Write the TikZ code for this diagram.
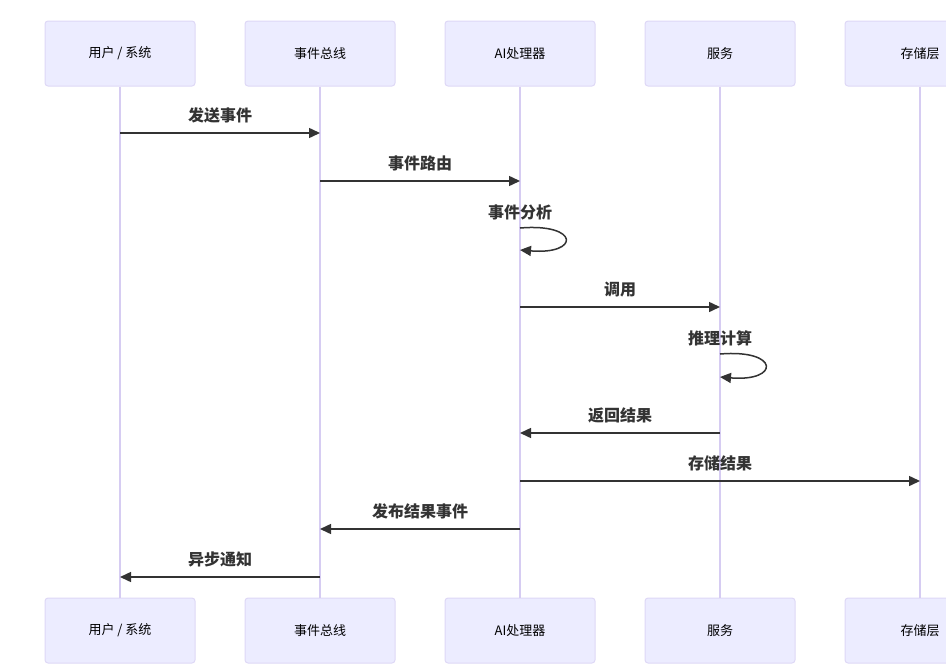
\documentclass[tikz,border=0pt]{standalone}
\usepackage{fontspec}
\setmainfont{Noto Sans CJK SC}
\usetikzlibrary{arrows.meta}
\definecolor{actorfill}{RGB}{236,236,255}
\definecolor{actorline}{RGB}{222,216,246}
\definecolor{lifeline}{RGB}{214,204,242}
\definecolor{msgline}{RGB}{51,51,51}

\begin{document}
\begin{tikzpicture}[x=1pt,y=-1pt,
    actor/.style={rectangle,draw=actorline,fill=actorfill,rounded corners=3pt,line width=1pt,minimum width=150pt,minimum height=65pt,font=\fontsize{13}{15}\selectfont},
    life/.style={draw=lifeline,line width=1.3pt},
    msg/.style={draw=msgline,line width=1.5pt,-{Triangle[length=11pt,width=10pt]}},
    msglabel/.style={font=\bfseries\fontsize{16}{18}\selectfont,text=msgline}]

    \clip (0,0) rectangle (946,672);

    % Actors (top and bottom)
    \node[actor] at (120,53.5) (user) {用户 / 系统};
    \node[actor] at (320,53.5) (bus) {事件总线};
    \node[actor] at (520,53.5) (ai) {AI处理器};
    \node[actor] at (720,53.5) (svc) {服务};
    \node[actor] at (920,53.5) (store) {存储层};

    \node[actor] at (120,630.5) (user2) {用户 / 系统};
    \node[actor] at (320,630.5) (bus2) {事件总线};
    \node[actor] at (520,630.5) (ai2) {AI处理器};
    \node[actor] at (720,630.5) (svc2) {服务};
    \node[actor] at (920,630.5) (store2) {存储层};

    % Lifelines
    \foreach \a in {user,bus,ai,svc,store}
        \draw[life] (\a.south) -- (\a2.north);

    % Message points on the lifelines
    \coordinate (u1) at (120,133);
    \coordinate (b1) at (320,133);
    \coordinate (b2) at (320,181);
    \coordinate (a2) at (520,181);
    \coordinate (a3) at (520,228);
    \coordinate (a3e) at (520,250);
    \coordinate (a4) at (520,307);
    \coordinate (s4) at (720,307);
    \coordinate (s5) at (720,354);
    \coordinate (s5e) at (720,377);
    \coordinate (s6) at (720,433);
    \coordinate (a6) at (520,433);
    \coordinate (a7) at (520,481);
    \coordinate (t7) at (920,481);
    \coordinate (a8) at (520,529);
    \coordinate (b8) at (320,529);
    \coordinate (b9) at (320,577);
    \coordinate (u9) at (120,577);

    % Messages
    \draw[msg] (u1) -- (b1);
    \node[msglabel] at (220,115) (l1) {发送事件};
    \draw[msg] (b2) -- (a2);
    \node[msglabel] at (420,163) (l2) {事件路由};
    \draw[msg] (a3) .. controls +(60,-5) and +(60,5) .. (a3e);
    \node[msglabel] at (520,212) (l3) {事件分析};
    \draw[msg] (a4) -- (s4);
    \node[msglabel] at (620,290) (l4) {调用};
    \draw[msg] (s5) .. controls +(60,-5) and +(60,5) .. (s5e);
    \node[msglabel] at (720,338) (l5) {推理计算};
    \draw[msg] (s6) -- (a6);
    \node[msglabel] at (620,415) (l6) {返回结果};
    \draw[msg] (a7) -- (t7);
    \node[msglabel] at (720,463) (l7) {存储结果};
    \draw[msg] (a8) -- (b8);
    \node[msglabel] at (420,511) (l8) {发布结果事件};
    \draw[msg] (b9) -- (u9);
    \node[msglabel] at (220,559) (l9) {异步通知};
\end{tikzpicture}
\end{document}
